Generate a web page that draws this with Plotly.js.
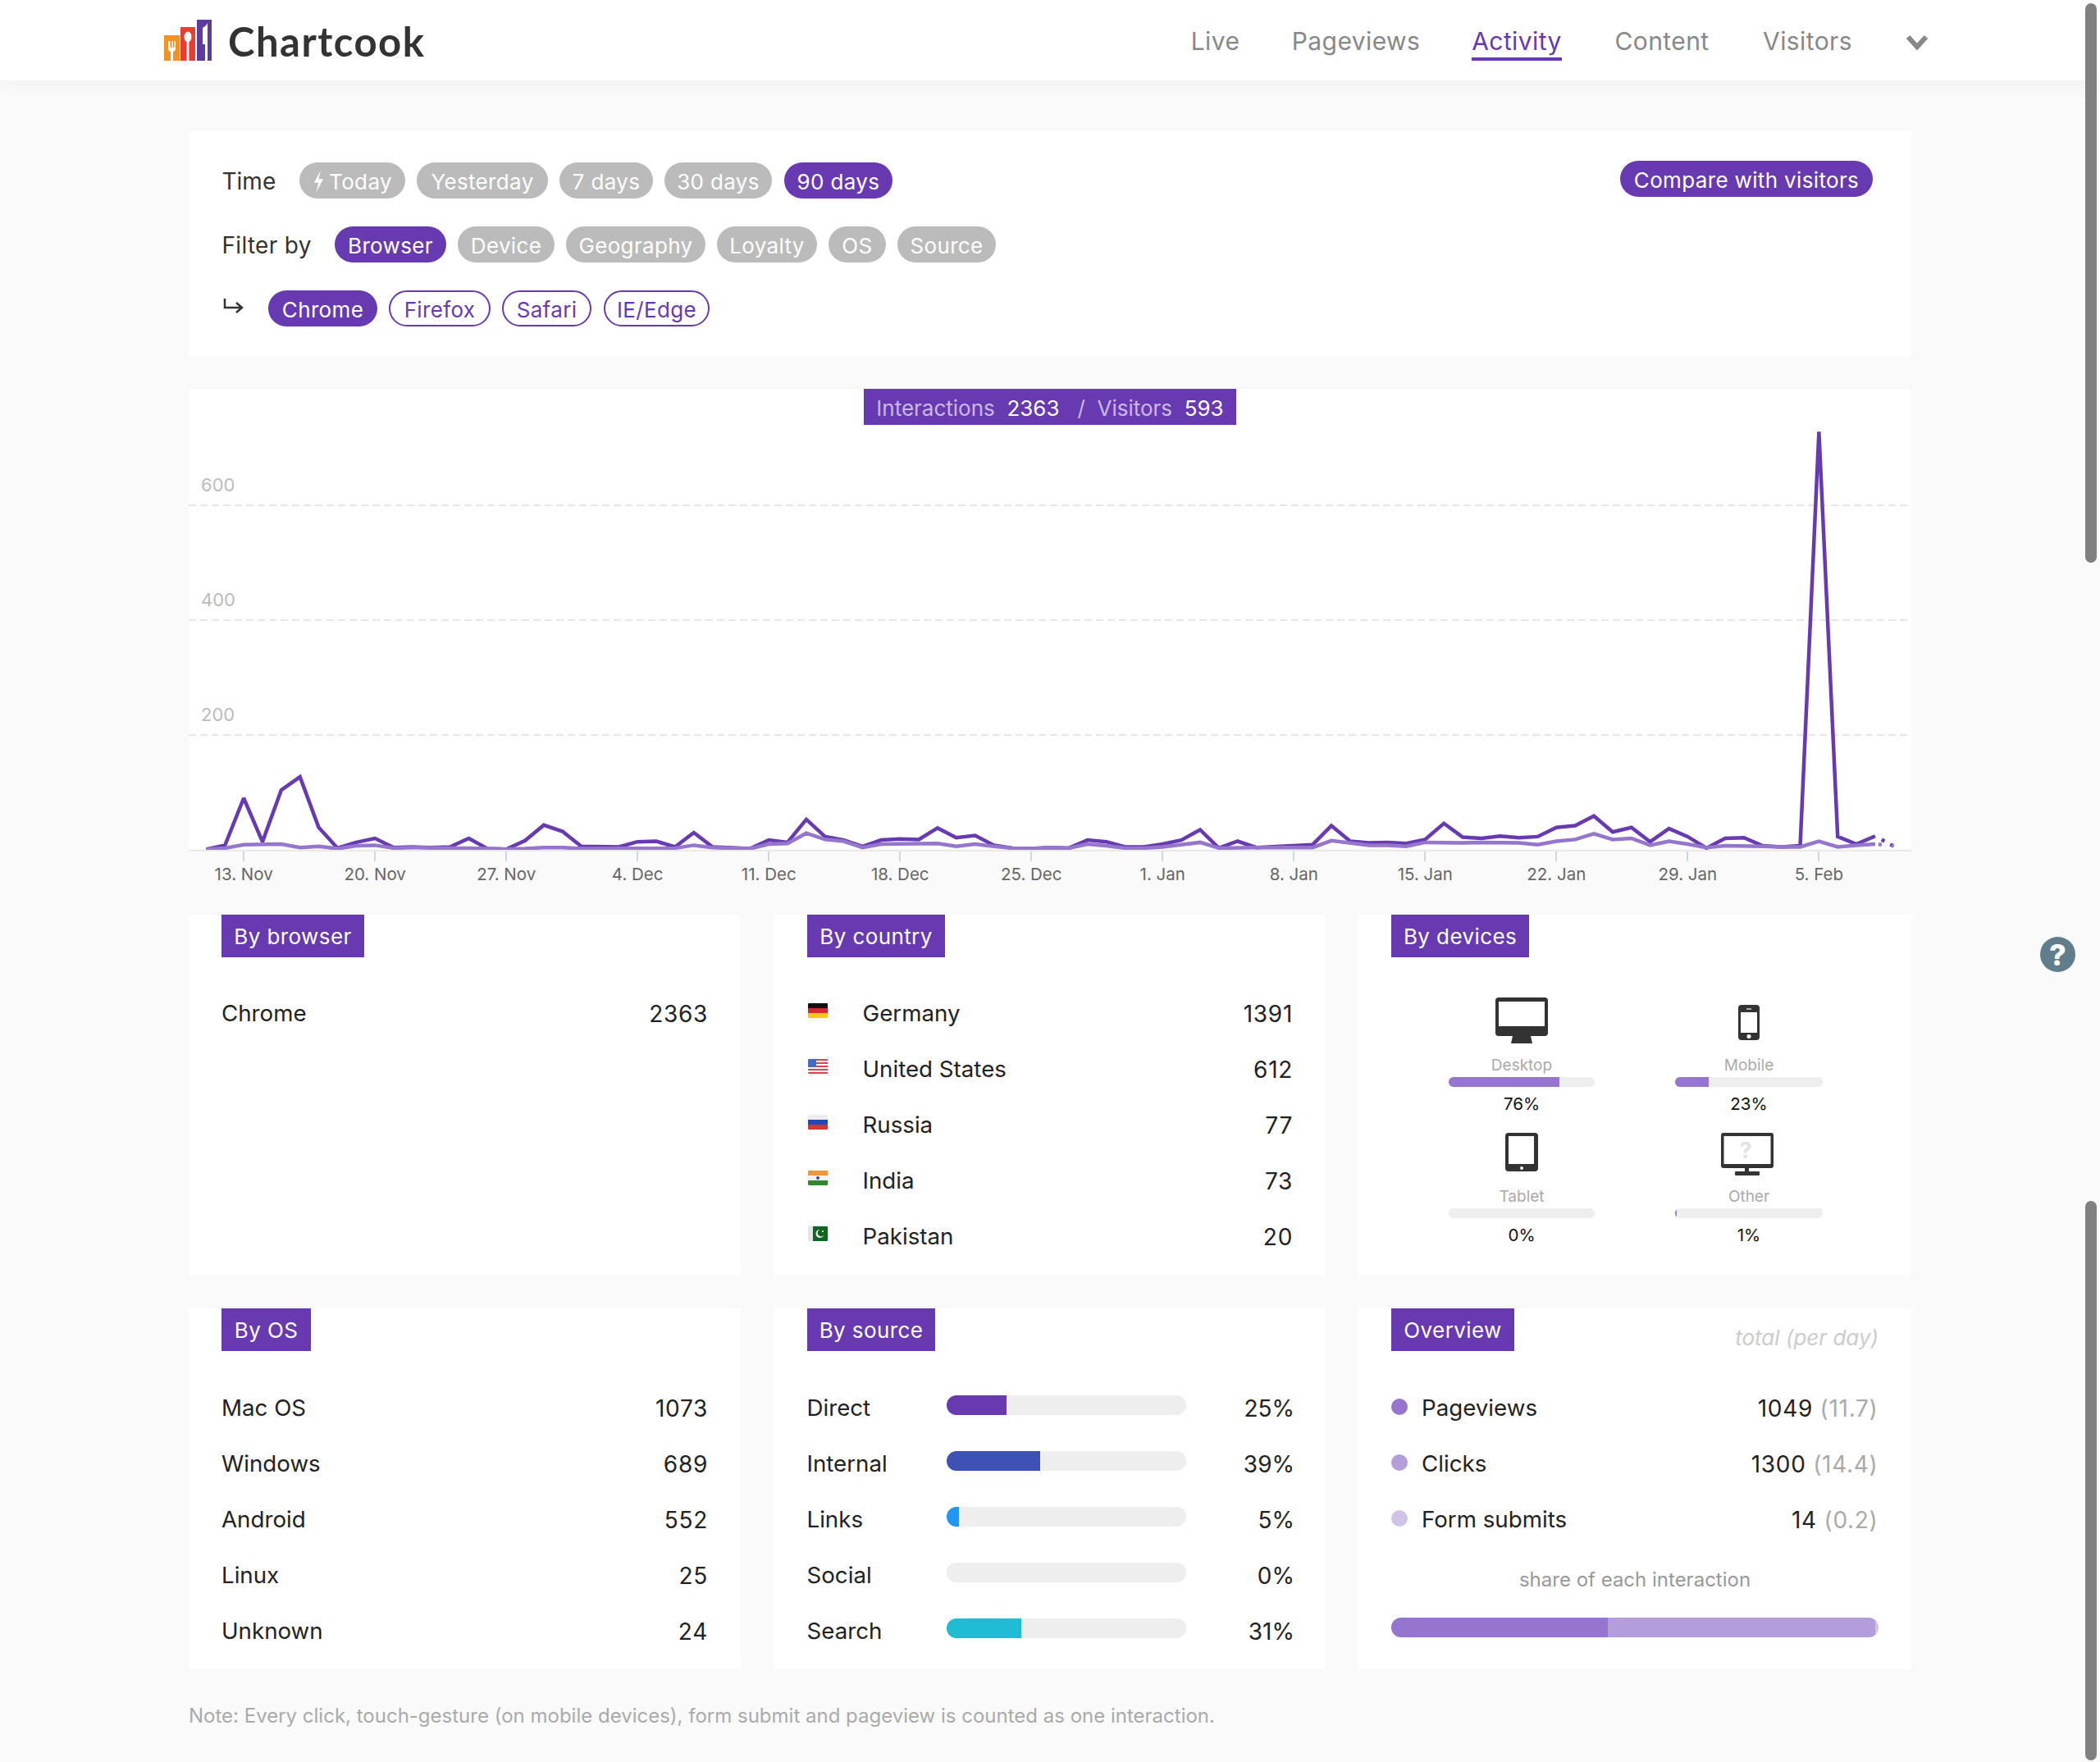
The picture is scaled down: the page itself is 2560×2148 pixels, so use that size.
<!DOCTYPE html>
<html><head><meta charset="utf-8">
<script src="https://cdn.plot.ly/plotly-3.0.1.min.js"></script>
<style>
html,body{margin:0;padding:0;background:#fafafa;width:2560px;height:2148px;overflow:hidden;font-family:Inter,"Noto Sans",sans-serif;color:#222}
#page{position:relative;width:2560px;height:2148px;overflow:hidden}
.abs{position:absolute}
.t{position:absolute;white-space:nowrap;line-height:1;transform:translateY(-50%)}
.card{position:absolute;background:#fff;box-shadow:0 -2px 6px rgba(0,0,0,.012)}
.pill{position:absolute;display:flex;align-items:center;justify-content:center;box-sizing:border-box;border-radius:22px;font-size:26px;letter-spacing:.35px;padding-top:2px;white-space:nowrap}
.bar{position:absolute;overflow:hidden}
svg{position:absolute;overflow:visible}
</style></head><body><div id="page"></div>
<script>
// ---- data ----
const startDate = '2017-11-11';
const interactions = [1,8,90,14,104,127,39,3,13,20,4,5,4,5,20,2,1,16,43,32,6,6,5,14,15,5,30,5,4,2,17,13,53,23,17,6,17,19,18,38,21,25,8,3,2,4,3,17,14,5,5,10,17,35,3,15,4,6,7,9,42,15,12,13,11,18,46,22,20,24,21,23,39,42,59,31,39,14,37,23,3,20,21,7,5,7,728,23,10,24];
const visitors = [1,3,9,9,10,4,6,2,7,8,3,4,3,3,3,2,1,2,4,4,2,2,2,3,3,3,8,4,3,2,10,11,29,18,15,4,10,10,11,11,6,10,6,3,2,4,3,10,7,3,3,5,9,13,3,4,4,4,4,4,16,12,8,8,6,13,12,12,13,13,12,9,15,18,28,18,20,8,15,10,4,7,7,6,5,5,15,5,8,10];
const partialInteractions = [24,6];
const partialVisitors = [10,7];
const tickDates = ['13. Nov','20. Nov','27. Nov','4. Dec','11. Dec','18. Dec','25. Dec','1. Jan','8. Jan','15. Jan','22. Jan','29. Jan','5. Feb'];
const yTicks = [200,400,600];
const browsers = ['Chrome'], browserValues = [2363];
const countries = ['Germany','United States','Russia','India','Pakistan'], countryValues = [1391,612,77,73,20];
const osNames = ['Mac OS','Windows','Android','Linux','Unknown'], osValues = [1073,689,552,25,24];
const sources = ['Direct','Internal','Links','Social','Search'], sourceShares = [25,39,5,0,31];
const sourceColors = ['#673ab2','#3f51b5','#2196f3','#9e9e9e','#1fbcd3'];
const devices = ['Desktop','Mobile','Tablet','Other'], deviceShares = [76,23,0,1];
const overviewNames = ['Pageviews','Clicks','Form submits'], overviewTotals = [1049,1300,14], overviewPerDay = ['11.7','14.4','0.2'];
const overviewColors = ['#9575cd','#b39ddb','#d1c4e9'];

const P = '#673ab2', page = document.getElementById('page');
function el(tag, cls, css, html){const e=document.createElement(tag);if(cls)e.className=cls;if(css)e.style.cssText=css;if(html!=null)e.innerHTML=html;page.appendChild(e);return e}
function txt(s,x,y,size,color,extra){return el('div','t',`left:${x}px;top:${y}px;font-size:${size}px;color:${color};${extra||''}`,s)}
function txtR(s,x,y,size,color,extra){return el('div','t',`right:${2560-x}px;top:${y}px;font-size:${size}px;color:${color};${extra||''}`,s)}
function txtC(s,x,y,size,color,extra){return el('div','t',`left:${x}px;top:${y}px;font-size:${size}px;color:${color};transform:translate(-50%,-50%);${extra||''}`,s)}
function box(x,y,w,h,bg,extra){return el('div','abs',`left:${x}px;top:${y}px;width:${w}px;height:${h}px;background:${bg};${extra||''}`)}
function card(x,y,x2,y2){return el('div','card',`left:${x}px;top:${y}px;width:${x2-x}px;height:${y2-y}px`)}
function pill(s,x,x2,y,y2,kind){
  const st = kind==='on'?`background:${P};color:#fff`:kind==='off'?'background:#bbb;color:#fff':`background:#fff;color:${P};border:2px solid ${P}`;
  return el('div','pill',`left:${x}px;top:${y}px;width:${x2-x}px;height:${y2-y}px;${st}`,s)
}
function svg(x,y,w,h,inner){return el('div','abs',`left:${x}px;top:${y}px;width:${w}px;height:${h}px`,`<svg width="${w}" height="${h}" viewBox="0 0 ${w} ${h}">${inner}</svg>`)}
function badge(s,x,x2,y,y2){box(x,y,x2-x,y2-y,P);txtC(s,(x+x2)/2,(y+y2)/2+1,26,'#fff','letter-spacing:.4px')}
function hbar(x,y,w,h,vals,colors,total){
  const d=el('div','bar',`left:${x}px;top:${y}px;width:${w}px;height:${h}px;border-radius:${h/2}px;background:#eee`);
  const data=vals.map((v,i)=>({type:'bar',orientation:'h',y:['a'],x:[v],marker:{color:colors[i],line:{width:0}},hoverinfo:'skip'}));
  Plotly.newPlot(d,data,{width:w,height:h,margin:{l:0,r:0,t:0,b:0},barmode:'stack',bargap:0,showlegend:false,paper_bgcolor:'#eee',plot_bgcolor:'#eee',
    xaxis:{range:[0,total],visible:false,fixedrange:true},yaxis:{visible:false,fixedrange:true,type:'category'}},{staticPlot:true,displayModeBar:false});
}

// ---- header ----
box(0,0,2560,98,'#fff','box-shadow:0 2px 22px rgba(0,0,0,.05)');
svg(200,24,60,52,`
 <rect x="0" y="19" width="19" height="31" fill="#f39224"/><rect x="20" y="9" width="18" height="41" fill="#e53f33"/><rect x="40" y="0" width="18" height="50" fill="#5c3c9c"/>
 <path d="M5 26v9q0 3 3 4v11h3V39q3-1 3-4v-9h-1.500v8h-1.500v-8h-1.500v8H7.500v-8z" fill="#fff"/>
 <ellipse cx="29" cy="21" rx="4.500" ry="6.500" fill="#fff"/><rect x="27.600" y="25" width="2.800" height="25" fill="#fff"/>
 <path d="M47 10q5-3 6-6v46h-3V30h-3z" fill="#fff"/>`);
txt('Chartcook',278,49.500,49,'#333','font-family:Lato;font-weight:700;letter-spacing:1.5px');
[['Live',1451,1512],['Pageviews',1576,1730],['Activity',1794,1904],['Content',1968,2084],['Visitors',2149,2258]].forEach(n=>{
  txtC(n[0],(n[1]+n[2])/2,50,30,n[0]==='Activity'?P:'#888','letter-spacing:.4px');
});
box(1794,70,110,4,P);
svg(2323,42,30,20,`<path d="M3 3 L14 15 L25 3" fill="none" stroke="#888" stroke-width="6"/>`);

// ---- filter card ----
card(230,160,2330,434);
txt('Time',270.500,221,28,'#333');
txt('Filter by',270.500,299,28,'#333','letter-spacing:.3px');
pill('<svg style="position:static;margin-right:5px" width="15" height="27" viewBox="0 0 12 24"><path d="M8 0 L1 13 H6 L3 24 L11 9 H6 Z" fill="#fff"/></svg>Today',365,494,198,242,'off');
pill('Yesterday',508,668,198,242,'off');pill('7 days',682,796,198,242,'off');pill('30 days',810,941,198,242,'off');pill('90 days',956,1088,198,242,'on');
pill('Browser',408,544,276,320,'on');pill('Device',558,676,276,320,'off');pill('Geography',690,860,276,320,'off');pill('Loyalty',874,996,276,320,'off');pill('OS',1010,1080,276,320,'off');pill('Source',1094,1214,276,320,'off');
svg(272,364,26,18,`<path d="M2 0 V11 H22 M16 5 L23 11 L16 17" fill="none" stroke="#333" stroke-width="2.500"/>`);
pill('Chrome',327,460,354,398,'on');pill('Firefox',474,598,354,398,'line');pill('Safari',612,721,354,398,'line');pill('IE/Edge',736,865,354,398,'line');
pill('Compare with visitors',1975,2283,196,240,'on');

// ---- main chart ----
card(230,474,2330,1034);
const chartDiv = el('div','abs','left:230px;top:474px;width:2100px;height:620px');
const days=[];const d0=new Date(startDate+'T00:00:00Z');
for(let i=0;i<interactions.length+1;i++){days.push(new Date(d0.getTime()+i*864e5).toISOString().slice(0,10))}
const mon={Nov:'2017-11',Dec:'2017-12',Jan:'2018-01',Feb:'2018-02'};
const tickVals=tickDates.map(s=>{const p=s.split('. ');return mon[p[1]]+'-'+String(p[0]).padStart(2,'0')});
const sd=days.slice(0,interactions.length);
const lastDays=days.slice(interactions.length-1);
const dayPx=22.86, leftPad=21.4;
const xStart=new Date(d0.getTime()-(leftPad/dayPx)*864e5).toISOString();
const xEnd=new Date(d0.getTime()+((2100-leftPad)/dayPx)*864e5).toISOString();
Plotly.newPlot(chartDiv,[
 {type:'scatter',mode:'lines',x:sd,y:interactions,line:{color:P,width:4.500,shape:'linear'},cliponaxis:false,name:'Interactions',hoverinfo:'skip'},
 {type:'scatter',mode:'lines',x:lastDays,y:partialInteractions,line:{color:P,width:4.500,dash:'0px,9px,4px,8px,4px,0px'},cliponaxis:false,hoverinfo:'skip'},
 {type:'scatter',mode:'lines',x:sd,y:visitors,line:{color:'#9575cd',width:4.500},cliponaxis:false,name:'Visitors',hoverinfo:'skip'},
 {type:'scatter',mode:'lines',x:lastDays,y:partialVisitors,line:{color:'#9575cd',width:4.500,dash:'0px,4px,4px,12px,4px,0px'},cliponaxis:false,hoverinfo:'skip'}
],{width:2100,height:620,margin:{l:0,r:0,t:0,b:58},paper_bgcolor:'rgba(0,0,0,0)',plot_bgcolor:'rgba(0,0,0,0)',showlegend:false,
 font:{family:'Inter, sans-serif'},
 xaxis:{type:'date',range:[xStart,xEnd],tickmode:'array',tickvals:tickVals,ticktext:tickDates,ticks:'outside',ticklen:12,tickwidth:2,tickcolor:'#ccd6eb',
   tickfont:{size:20.500,color:'#666'},ticklabelstandoff:-2,showgrid:false,zeroline:false,showline:true,linecolor:'#e9e9e9',linewidth:2,layer:'below traces',fixedrange:true},
 yaxis:{range:[0,802.860],tickmode:'array',tickvals:yTicks,ticktext:yTicks.map(String),showgrid:true,gridcolor:'#e6e6e6',gridwidth:2,griddash:'9px,5px',zeroline:false,showline:false,
   ticks:'',ticklabelposition:'inside',ticklabelstandoff:12,ticklabelshift:-25,tickfont:{size:22,color:'#bbb'},fixedrange:true}
},{staticPlot:true,displayModeBar:false});
box(1053,474,454,44,P);
txtC('<span style="color:#c9b8e8">Interactions</span>&nbsp; 2363 &nbsp;<span style="color:#c9b8e8">&nbsp;/&nbsp;&nbsp;Visitors</span>&nbsp; 593',1280,498,26,'#fff');

// ---- list cards ----
const rowYTop=[1236,1304,1372,1440,1508], rowYBot=[1716.500,1784.500,1852.500,1920.500,1988.500];
const barY=[1701,1769,1837,1905,1973];
const RS=27.7, VS=28, numSp='letter-spacing:.7px';
card(230,1115,903,1554);badge('By browser',270,444,1115,1167);
browsers.forEach((b,i)=>{txt(b,270,rowYTop[i],RS,'#222');txtR(browserValues[i],863,rowYTop[i],VS,'#222',numSp)});

card(944,1115,1616,1554);badge('By country',984,1152,1115,1167);
const flagCss=[
 'linear-gradient(#111 33%,#d8262c 33%,#d8262c 66%,#f5c518 66%)',
 'linear-gradient(90deg,#3c6fc4 0,#3c6fc4 40%,transparent 40%) 0 0/100% 55% no-repeat,repeating-linear-gradient(#d8434e 0,#d8434e 2px,#fff 2px,#fff 4px)',
 'linear-gradient(#eeeeee 33%,#1d48c0 33%,#1d48c0 66%,#cf3a33 66%)',
 'linear-gradient(#f2963c 33%,#f2f2f2 33%,#f2f2f2 66%,#2f8a2e 66%)',
 'linear-gradient(90deg,#e6e6e6 25%,#11661f 25%)'];
countries.forEach((c,i)=>{
  box(985,rowYTop[i]-13,24,18,flagCss[i],'border-radius:1px');
  txt(c,1051.500,rowYTop[i],RS,'#222');txtR(countryValues[i],1576,rowYTop[i],VS,'#222',numSp)});
svg(985,rowYTop[3]-13,24,18,`<circle cx="12" cy="9" r="2" fill="#2a4fa0"/>`);
svg(985,rowYTop[4]-13,24,18,`<circle cx="14.500" cy="9" r="5" fill="#fff"/><circle cx="16" cy="8" r="4.400" fill="#11661f"/><circle cx="18" cy="6" r="1" fill="#fff"/>`);

card(1656,1115,2330,1554);badge('By devices',1696,1864,1115,1167);
const devCx=[1855,2132,1855,2132], devBx=[1766,2042,1766,2042], devBw=[178,180,178,180], devRow=[0,0,160,160];
devices.forEach((n,i)=>{
  const dy=devRow[i];
  txtC(n,devCx[i],1298+dy,19,'#aaa');
  hbar(devBx[i],1313+dy,devBw[i],12,[deviceShares[i]],['#9575cd'],100);
  txtC(deviceShares[i]+'%',devCx[i],1345.500+dy,20.500,'#111');
});
svg(1823,1215.500,64,56,`<rect width="64" height="47" rx="4" fill="#333"/><rect x="4" y="5" width="56" height="30" fill="#fff"/><path d="M21 47H43L45 56H19Z" fill="#333"/>`);
svg(2119,1224.500,26,43,`<rect width="26" height="43" rx="4" fill="#333"/><rect x="3" y="9" width="20" height="25" fill="#fff"/><rect x="10" y="4" width="6" height="2" fill="#aaa"/><circle cx="13" cy="38.500" r="2.500" fill="#fff"/>`);
svg(1835,1380.500,40,47,`<rect width="40" height="47" rx="4" fill="#333"/><rect x="4" y="4" width="31" height="34" fill="#fff"/><circle cx="20" cy="43" r="2" fill="#fff"/>`);
svg(2098,1380.500,64,52,`<rect width="64" height="43" rx="3" fill="#333"/><rect x="3.500" y="4" width="57" height="34" fill="#fff"/><rect x="29" y="43" width="5" height="5" fill="#333"/><rect x="17" y="47" width="30" height="5" rx="1" fill="#333"/>`);
txtC('?',2128,1401.500,27,'#e2e2e2','font-weight:700');
el('div','abs','left:2487px;top:1142px;width:43px;height:43px;border-radius:50%;background:#607d8b');
txtC('?',2508.500,1163.500,36,'#fff','font-weight:800');

card(230,1595,903,2035);badge('By OS',270,379,1595,1647);
osNames.forEach((n,i)=>{txt(n,270,rowYBot[i],RS,'#222');txtR(osValues[i],863,rowYBot[i],VS,'#222',numSp)});

card(944,1595,1616,2035);badge('By source',984,1140,1595,1647);
sources.forEach((n,i)=>{
  txt(n,983.500,rowYBot[i],RS,'#222');
  hbar(1154,barY[i],292,24,[sourceShares[i]],[sourceColors[i]],100);
  txtR(sourceShares[i]+'%',1578,rowYBot[i],VS,'#222');
});

card(1656,1595,2330,2035);badge('Overview',1696,1846,1595,1647);
txtR('total (per day)',2290,1631,26,'#ccc','font-style:italic');
overviewNames.forEach((n,i)=>{
  el('div','abs',`left:1696px;top:${barY[i]+4}px;width:20px;height:20px;border-radius:50%;background:${overviewColors[i]}`);
  txt(n,1733,rowYBot[i],RS,'#222');
  txtR(`${overviewTotals[i]} <span style="color:#aaa">(${overviewPerDay[i]})</span>`,2289.500,rowYBot[i],VS,'#222',numSp);
});
txtC('share of each interaction',1993,1925.500,24,'#999');
hbar(1696,1972,594,24,overviewTotals,overviewColors,overviewTotals.reduce((a,b)=>a+b,0));

txt('Note: Every click, touch-gesture (on mobile devices), form submit and pageview is counted as one interaction.',230,2091.500,24,'#aaa');

// scrollbars
box(2542,4,14,682,'#808080','border-radius:7px');
box(2542,1464,14,682,'#808080','border-radius:7px');
</script></body></html>
